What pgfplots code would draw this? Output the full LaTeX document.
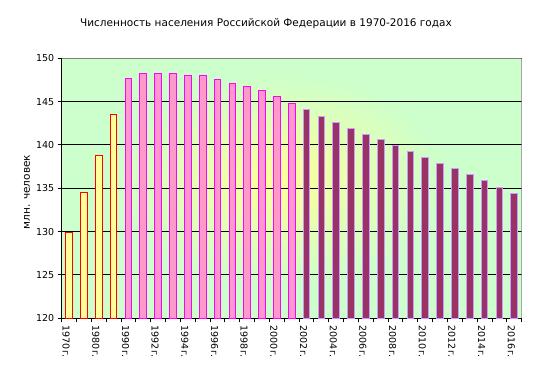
\documentclass[border=0pt]{standalone}
\usepackage{fontspec}
\setmainfont{DejaVu Sans}
\usepackage{pgfplots}
\pgfplotsset{compat=1.18}
\definecolor{bggrn}{HTML}{CCFFCC}
\definecolor{bgyel}{HTML}{FFFF99}
\definecolor{yelfill}{HTML}{FFFF99}
\definecolor{pinkfill}{HTML}{FF99CC}
\definecolor{pinkedge}{HTML}{FF00FF}
\definecolor{violfill}{HTML}{993366}
\definecolor{violedge}{HTML}{CC99FF}
\begin{document}
\begin{tikzpicture}
\useasboundingbox (0,0) rectangle (536pt,381pt);
\begin{scope}
\clip (61.7pt,62.7pt) rectangle (521.7pt,322.7pt);
\fill[bggrn] (61.7pt,62.7pt) rectangle (521.7pt,322.7pt);
\foreach \k in {0,...,40}{
  \pgfmathsetmacro{\f}{1-\k/40}
  \pgfmathtruncatemacro{\p}{100*\f}
  \fill[bggrn!\p!bgyel] (278pt,201pt) ellipse [x radius={170pt*\f}, y radius={108pt*\f}];
}
\end{scope}
\node[font=\fontsize{10.5}{12}\selectfont] at (266pt,357pt) {Численность населения Российской Федерации в 1970-2016 годах};
\node[rotate=90,font=\fontsize{10.5}{12}\selectfont] at (27pt,189pt) {млн. человек};
\begin{axis}[
  at={(61.7pt,62.7pt)}, anchor=south west,
  scale only axis, width=460pt, height=260pt,
  xmin=-0.5, xmax=30.5, ymin=120, ymax=150,
  ytick={120,125,...,150},
  ymajorgrids, grid style={black, line width=1pt},
  xtick={0,2,...,30},
  xticklabels={1970г.,1980г.,1990г.,1992г.,1994г.,1996г.,1998г.,2000г.,2002г.,2004г.,2006г.,2008г.,2010г.,2012г.,2014г.,2016г.},
  minor xtick={-0.5,0.5,...,30.5},
  major x tick style={draw=none},
  minor tick length=4pt,
  major tick length=4pt,
  tick align=outside,
  tick style={black, line width=1pt},
  axis x line*=bottom, axis y line*=left,
  axis line style={black, line width=1pt, -},
  tick label style={font=\fontsize{9.5}{11}\selectfont},
  /pgf/number format/assume math mode=true,
  xticklabel style={rotate=-90, anchor=west, yshift=-3pt},
]
\addplot[ybar, bar width=0.45, bar shift=0pt, fill=yelfill, draw=red, line width=1pt] coordinates {(0,129.9) (1,134.5) (2,138.8) (3,143.5)};
\addplot[ybar, bar width=0.45, bar shift=0pt, fill=pinkfill, draw=pinkedge, line width=1pt] coordinates {(4,147.7)(5,148.2)(6,148.3)(7,148.3)(8,148.0)(9,148.0)(10,147.6)(11,147.1)(12,146.7)(13,146.3)(14,145.6)(15,144.8)};
\addplot[ybar, bar width=0.45, bar shift=0pt, fill=violfill, draw=violedge, line width=1pt] coordinates {(16,144.1)(17,143.3)(18,142.6)(19,141.9)(20,141.2)(21,140.6)(22,139.9)(23,139.2)(24,138.6)(25,137.9)(26,137.3)(27,136.6)(28,135.9)(29,135.1)(30,134.4)};
\draw[gray, line width=1pt] (rel axis cs:0,1) -- (rel axis cs:1,1) -- (rel axis cs:1,0);
\end{axis}
\end{tikzpicture}
\end{document}
